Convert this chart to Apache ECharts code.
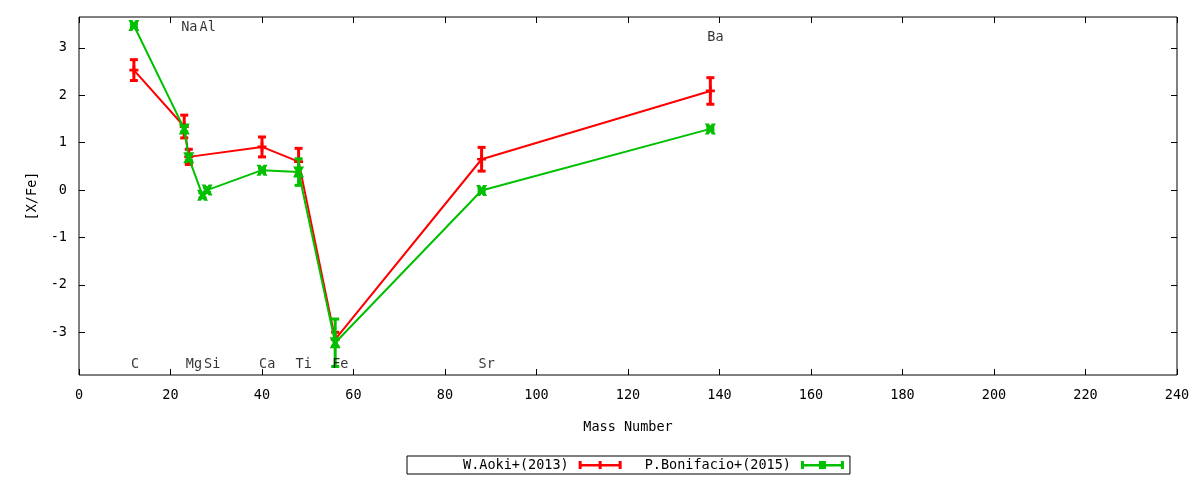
<!DOCTYPE html>
<html>
<head>
<meta charset="utf-8">
<script src="https://cdn.jsdelivr.net/npm/echarts@6/dist/echarts.min.js"></script>
<style>html,body{margin:0;padding:0;background:#fff;}#c{width:1200px;height:480px;}</style>
</head>
<body>
<div id="c"></div>
<script>
// Data
const aokiX = [12, 23, 24, 40, 48, 56, 88, 138];
const aokiY = [2.53, 1.34, 0.70, 0.91, 0.60, -3.15, 0.65, 2.09];
const aokiErr = [0.22, 0.24, 0.16, 0.21, 0.28, 0.15, 0.25, 0.28];

const bonX = [12, 23, 24, 27, 28, 40, 48, 56, 88, 138];
const bonY = [3.47, 1.29, 0.68, -0.11, 0.0, 0.42, 0.38, -3.22, -0.01, 1.29];
const bonErr = [0.03, 0.06, 0.06, 0.05, 0.05, 0.04, 0.28, 0.5, 0.03, 0.03];

const elemNames = ['C', 'Na', 'Mg', 'Al', 'Si', 'Ca', 'Ti', 'Fe', 'Sr', 'Ba'];
const elemX = [12, 23, 24, 27, 28, 40, 48, 56, 88, 138];
const elemY = [-3.67, 3.42, -3.67, 3.42, -3.67, -3.67, -3.67, -3.67, -3.67, 3.21];

const yTicks = [-3, -2, -1, 0, 1, 2, 3];
const seriesNames = ['W.Aoki+(2013)', 'P.Bonifacio+(2015)'];

const RED = '#ff0000';
const GREEN = '#00c000';
const FONT = 'DejaVu Sans Mono';
const FS = 13.5;

function zip3(a, b, c) { return a.map((v, i) => [v, b[i], c[i]]); }
function zip2(a, b) { return a.map((v, i) => [v, b[i]]); }

function errRenderer(color) {
  return function (params, api) {
    const x = api.value(0), y = api.value(1), e = api.value(2);
    const t = api.coord([x, y + e]);
    const b = api.coord([x, y - e]);
    const hw = 4;
    const st = { stroke: color, lineWidth: 3, fill: null };
    return {
      type: 'group',
      children: [
        { type: 'line', shape: { x1: t[0], y1: t[1], x2: b[0], y2: b[1] }, style: st },
        { type: 'line', shape: { x1: t[0] - hw, y1: t[1], x2: t[0] + hw, y2: t[1] }, style: st },
        { type: 'line', shape: { x1: b[0] - hw, y1: b[1], x2: b[0] + hw, y2: b[1] }, style: st }
      ]
    };
  };
}

const plusPath = 'path://M3.5,0H6.5V3.5H10V6.5H6.5V10H3.5V6.5H0V3.5H3.5Z';
const crossPath = 'path://M0,0L3.6,0L5,2.2L6.4,0L10,0L7.2,5L10,10L6.4,10L5,7.8L3.6,10L0,10L2.8,5Z';
const iconRed = 'path://M0,0h3v8h-3z M40,0h3v8h-3z M20,0h3v8h-3z M0,3h43v2.5h-43z';
const iconGreen = 'path://M0,0h3v8h-3z M40,0h3v8h-3z M18,0h7v8h-7z M0,3h43v2.5h-43z';

const tickStyle = { inside: true, length: 6, lineStyle: { color: '#000' } };

const chart = echarts.init(document.getElementById('c'));
chart.setOption({
  backgroundColor: '#fff',
  animation: false,
  textStyle: { fontFamily: FONT, color: '#000' },
  grid: { left: 79, right: 23, top: 17, bottom: 105, show: true, borderColor: '#000', borderWidth: 1, containLabel: false },
  legend: {
    data: [
      { name: seriesNames[0], icon: iconRed, itemStyle: { color: RED } },
      { name: seriesNames[1], icon: iconGreen, itemStyle: { color: GREEN } }
    ],
    left: 407, top: 456,
    align: 'right',
    itemWidth: 43, itemHeight: 8,
    itemGap: 23,
    padding: [2, 6, 2, 56],
    borderColor: '#000', borderWidth: 1,
    textStyle: { fontFamily: FONT, fontSize: FS, color: '#000', padding: [0, 5, 0, 0] },
    selectedMode: false
  },
  xAxis: [
    {
      type: 'value', min: 0, max: 240, interval: 20,
      name: 'Mass Number', nameLocation: 'middle', nameGap: 45,
      nameTextStyle: { fontFamily: FONT, fontSize: FS, color: '#000' },
      axisLine: { show: false, onZero: false },
      axisTick: tickStyle,
      axisLabel: { fontFamily: FONT, fontSize: FS, color: '#000', margin: 13 },
      splitLine: { show: false }
    },
    {
      type: 'value', position: 'top', min: 0, max: 240, interval: 20,
      axisLine: { show: false, onZero: false },
      axisTick: tickStyle,
      axisLabel: { show: false },
      splitLine: { show: false }
    }
  ],
  yAxis: [
    {
      type: 'value', min: -3.9, max: 3.65,
      name: '[X/Fe]', nameLocation: 'middle', nameGap: 40, nameRotate: 90,
      nameTextStyle: { fontFamily: FONT, fontSize: FS, color: '#000' },
      axisLine: { show: false, onZero: false },
      axisTick: Object.assign({ customValues: yTicks }, tickStyle),
      axisLabel: { fontFamily: FONT, fontSize: FS, color: '#000', margin: 12, customValues: yTicks },
      splitLine: { show: false }
    },
    {
      type: 'value', position: 'right', min: -3.9, max: 3.65,
      axisLine: { show: false, onZero: false },
      axisTick: Object.assign({ customValues: yTicks }, tickStyle),
      axisLabel: { show: false },
      splitLine: { show: false }
    }
  ],
  series: [
    {
      name: seriesNames[0], type: 'line', data: zip2(aokiX, aokiY),
      color: RED, lineStyle: { width: 2, color: RED },
      symbol: plusPath, symbolSize: [9, 9], showAllSymbol: true,
      itemStyle: { color: RED }, z: 2
    },
    {
      name: seriesNames[0], type: 'custom', data: zip3(aokiX, aokiY, aokiErr),
      renderItem: errRenderer(RED), encode: { x: 0, y: 1 }, z: 3, clip: true
    },
    {
      name: seriesNames[1], type: 'line', data: zip2(bonX, bonY),
      color: GREEN, lineStyle: { width: 2, color: GREEN },
      symbol: crossPath, symbolSize: [11, 11], showAllSymbol: true,
      itemStyle: { color: GREEN }, z: 4
    },
    {
      name: seriesNames[1], type: 'custom', data: zip3(bonX, bonY, bonErr),
      renderItem: errRenderer(GREEN), encode: { x: 0, y: 1 }, z: 5, clip: true
    },
    {
      name: 'labels', type: 'scatter', symbolSize: 0, silent: true,
      data: elemX.map((x, i) => ({ value: [x, elemY[i]], name: elemNames[i] })),
      label: {
        show: true, position: 'inside', formatter: p => p.name,
        align: 'left', verticalAlign: 'middle', offset: [-3, 0],
        fontFamily: FONT, fontSize: FS, color: '#000'
      },
      z: 6
    }
  ]
});
</script>
</body>
</html>
